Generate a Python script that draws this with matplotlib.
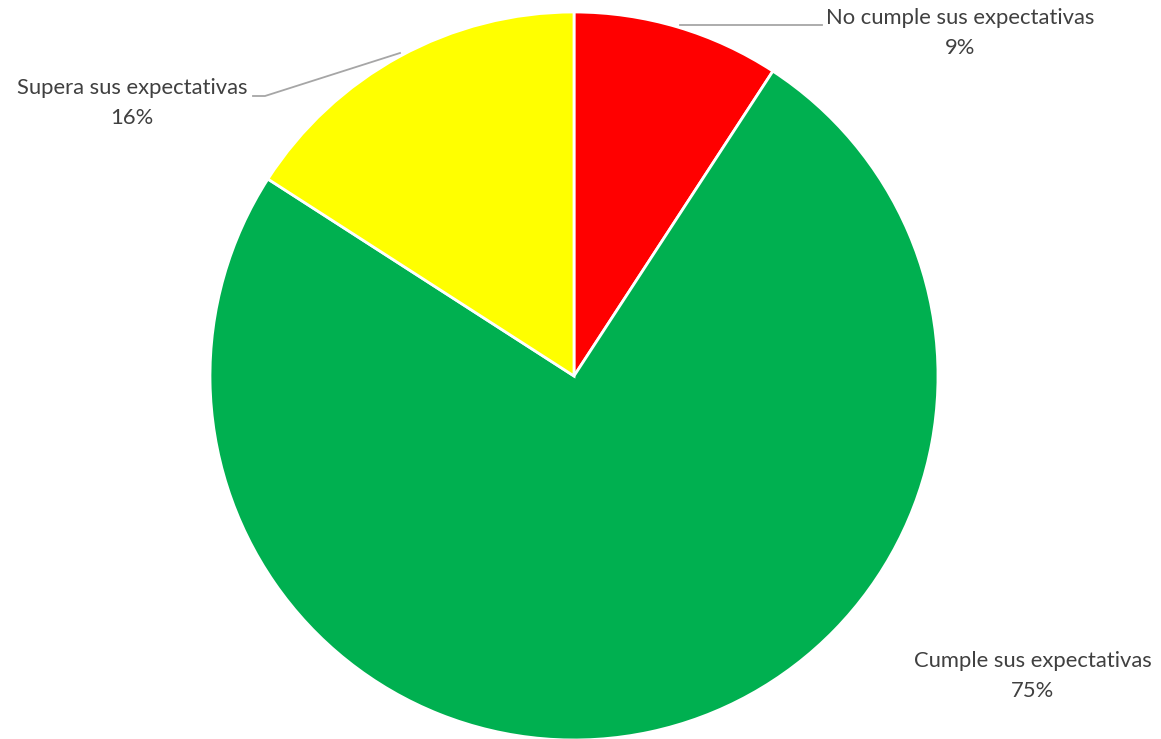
import matplotlib
matplotlib.use("Agg")
import matplotlib.pyplot as plt

categories = ["No cumple sus expectativas", "Cumple sus expectativas", "Supera sus expectativas"]
values = [9.2, 74.9, 15.9]
pct_labels = ["9%", "75%", "16%"]
colors = ["#FF0000", "#00B050", "#FFFF00"]

W, H = 1161, 739
fig = plt.figure(figsize=(W / 100, H / 100), dpi=100)
ax = fig.add_axes([0, 0, 1, 1])

cx, cy, r = 574, H - 376, 364
ax.pie(values, colors=colors, startangle=90, counterclock=False,
       center=(cx, cy), radius=r, frame=True,
       wedgeprops=dict(edgecolor="white", linewidth=2))
ax.set_xlim(0, W)
ax.set_ylim(0, H)
ax.set_aspect("equal")
ax.axis("off")

txt = dict(color="#404040", fontsize=15.8, family=["Lato", "DejaVu Sans"],
           ha="center", va="center", linespacing=1.6)
label_pos = [(960, 33), (1033, 676), (132, 103)]
for name, pct, (x, y) in zip(categories, pct_labels, label_pos):
    ax.text(x, H - y, f"{name}\n{pct}", **txt)

lc = "#A6A6A6"
ax.plot([680, 822], [H - 25, H - 25], color=lc, lw=1.3)
ax.plot([400, 265, 253], [H - 53, H - 96, H - 96], color=lc, lw=1.3)

fig.savefig("out.png", dpi=100)
